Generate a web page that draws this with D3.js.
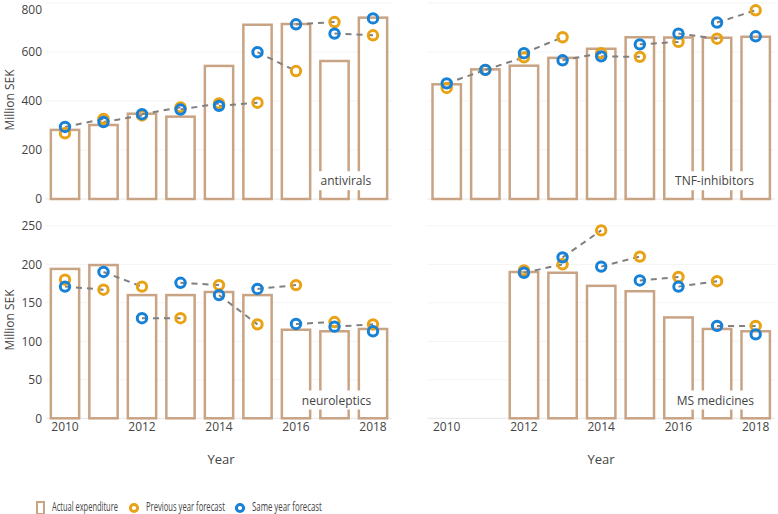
<!DOCTYPE html>
<html>
<head>
<meta charset="utf-8">
<script src="https://cdn.jsdelivr.net/npm/d3@7"></script>
<style>
  body { margin: 0; background: #fff; }
  svg { font-family: "Open Sans", "DejaVu Sans", sans-serif; }
</style>
</head>
<body>
<svg id="chart" width="778" height="514"></svg>
<script>
const years = [2010, 2011, 2012, 2013, 2014, 2015, 2016, 2017, 2018];
const xTickLabels = [2010, 2012, 2014, 2016, 2018];
const panelNames = ["antivirals", "TNF-inhibitors", "neuroleptics", "MS medicines"];
const topTicks = [0, 200, 400, 600, 800];
const bottomTicks = [0, 50, 100, 150, 200, 250];

// antivirals
const antiviralsActual = [282, 302, 348, 336, 543, 711, 714, 563, 740];
const antiviralsPrev   = [268, 327, 341, 374, 390, 393, 522, 722, 668];
const antiviralsSame   = [294, 314, 346, 365, 380, 599, 713, 675, 737];
// TNF-inhibitors
const tnfActual = [468, 529, 544, 576, 613, 660, 659, 658, 662];
const tnfPrev   = [453, 527, 578, 660, 595, 580, 641, 654, 770];
const tnfSame   = [472, 527, 595, 566, 582, 631, 675, 720, 664];
// neuroleptics
const neuroActual = [194, 199, 160, 160, 164, 160, 115, 113, 116];
const neuroPrev   = [180, 167, 171, 130, 173, 122, 173, 125, 122];
const neuroSame   = [171, 190, 130, 176, 160, 168, 122.5, 119, 113];
// MS medicines
const msActual = [null, null, 190, 189, 172, 165, 131, 116, 113];
const msPrev   = [null, null, 192, 200, 244, 210, 183.5, 178, 120];
const msSame   = [null, null, 189, 209, 197, 179, 171, 120, 109];

const legendLabels = ["Actual expenditure", "Previous year forecast", "Same year forecast"];

const COL_BAR = "#c8a384";
const COL_PREV = "#e8a214";
const COL_SAME = "#1681d6";
const COL_TEXT = "#444";

const svg = d3.select("#chart");

const panels = [
  { name: panelNames[0], actual: antiviralsActual, prev: antiviralsPrev, same: antiviralsSame,
    x0: 45.75, x1: 392.25, yTop: 0, yBot: 199, dmax: 812, ticks: topTicks, showX: false, showY: true },
  { name: panelNames[1], actual: tnfActual, prev: tnfPrev, same: tnfSame,
    x0: 427.4, x1: 775, yTop: 0, yBot: 199, dmax: 812, ticks: topTicks, showX: false, showY: false },
  { name: panelNames[2], actual: neuroActual, prev: neuroPrev, same: neuroSame,
    x0: 45.75, x1: 392.25, yTop: 215, yBot: 418.3, dmax: 264, ticks: bottomTicks, showX: true, showY: true },
  { name: panelNames[3], actual: msActual, prev: msPrev, same: msSame,
    x0: 427.4, x1: 775, yTop: 215, yBot: 418.3, dmax: 264, ticks: bottomTicks, showX: true, showY: false }
];

panels.forEach(p => {
  const x = d3.scaleBand().domain(years).range([p.x0, p.x1]).paddingInner(0.2).paddingOuter(0.1);
  const y = d3.scaleLinear().domain([0, p.dmax]).range([p.yBot, p.yTop]);
  const g = svg.append("g");
  const cx = yr => x(yr) + x.bandwidth() / 2;

  // gridlines
  g.selectAll("line.grid").data(p.ticks).join("line")
    .attr("x1", p.x0).attr("x2", p.x1)
    .attr("y1", d => y(d)).attr("y2", d => y(d))
    .attr("stroke", d => d === 0 ? "#e6e6e6" : "#f3f3f3")
    .attr("stroke-width", 1);

  // y axis labels
  if (p.showY) {
    const ya = d3.axisLeft(y).tickValues(p.ticks).tickSize(0).tickPadding(0);
    const ag = g.append("g").attr("transform", `translate(42,0)`).call(ya);
    ag.select(".domain").remove();
    ag.selectAll("text").attr("fill", COL_TEXT).style("font-size", "12px")
      .style("font-family", "'Open Sans', sans-serif")
      .attr("dy", d => (p.yTop === 0 && d === 800) ? "0.85em" : "0.32em");
  }
  // x axis labels
  if (p.showX) {
    const xa = d3.axisBottom(x).tickValues(xTickLabels).tickSize(0).tickPadding(0);
    const ag = g.append("g").attr("transform", `translate(0,${p.yBot + 4})`).call(xa);
    ag.select(".domain").remove();
    ag.selectAll("text").attr("fill", COL_TEXT).style("font-size", "12px")
      .style("font-family", "'Open Sans', sans-serif");
  }

  // bars
  const barData = years.map((yr, i) => ({ yr, v: p.actual[i] })).filter(d => d.v != null);
  g.selectAll("rect.bar").data(barData).join("rect")
    .attr("x", d => x(d.yr) + 1.25)
    .attr("width", x.bandwidth() - 2.5)
    .attr("y", d => y(d.v))
    .attr("height", d => y(0) - y(d.v))
    .attr("fill", "#fff")
    .attr("stroke", COL_BAR)
    .attr("stroke-width", 2.5);

  // panel label with white box
  const lab = g.append("text")
    .attr("x", p.x1 - 21).attr("y", p.yBot - 17)
    .attr("text-anchor", "end").attr("dominant-baseline", "middle")
    .attr("fill", COL_TEXT).style("font-size", "12px")
    .text(p.name);
  const bb = lab.node().getBBox();
  g.insert("rect", () => lab.node())
    .attr("x", bb.x - 3).attr("y", bb.y - 1)
    .attr("width", bb.width + 6).attr("height", bb.height + 2)
    .attr("fill", "#fff");

  // dashed segments: same-year forecast (t) -> previous-year forecast (t+1)
  const segs = [];
  for (let i = 0; i < years.length - 1; i++) {
    if (p.same[i] != null && p.prev[i + 1] != null) {
      segs.push({ x1: cx(years[i]), y1: y(p.same[i]), x2: cx(years[i + 1]), y2: y(p.prev[i + 1]) });
    }
  }
  g.selectAll("line.seg").data(segs).join("line")
    .attr("x1", d => d.x1).attr("y1", d => d.y1)
    .attr("x2", d => d.x2).attr("y2", d => d.y2)
    .attr("stroke", "#808080").attr("stroke-width", 2)
    .attr("stroke-dasharray", "6,5");

  // markers
  const prevPts = years.map((yr, i) => ({ yr, v: p.prev[i] })).filter(d => d.v != null);
  const samePts = years.map((yr, i) => ({ yr, v: p.same[i] })).filter(d => d.v != null);
  g.selectAll("circle.prev").data(prevPts).join("circle")
    .attr("cx", d => cx(d.yr)).attr("cy", d => y(d.v)).attr("r", 4.7)
    .attr("fill", "none").attr("stroke", COL_PREV).attr("stroke-width", 3);
  g.selectAll("circle.same").data(samePts).join("circle")
    .attr("cx", d => cx(d.yr)).attr("cy", d => y(d.v)).attr("r", 4.7)
    .attr("fill", "none").attr("stroke", COL_SAME).attr("stroke-width", 3);
});

// y axis titles
[100, 320].forEach(cy => {
  svg.append("text")
    .attr("transform", `translate(11,${cy}) rotate(-90)`)
    .attr("text-anchor", "middle").attr("dominant-baseline", "middle")
    .attr("fill", COL_TEXT).style("font-size", "12px")
    .text("Million SEK");
});
// x axis titles
[221, 601].forEach(cx => {
  svg.append("text").attr("x", cx).attr("y", 461)
    .attr("text-anchor", "middle").attr("dominant-baseline", "middle")
    .attr("fill", COL_TEXT).style("font-size", "13px").text("Year");
});

// legend
const lg = svg.append("g");
lg.append("rect").attr("x", 37).attr("y", 502).attr("width", 7).attr("height", 12)
  .attr("fill", "#fff").attr("stroke", COL_BAR).attr("stroke-width", 2);
lg.append("circle").attr("cx", 134).attr("cy", 508).attr("r", 3.6)
  .attr("fill", "none").attr("stroke", COL_PREV).attr("stroke-width", 3);
lg.append("circle").attr("cx", 240).attr("cy", 508).attr("r", 3.6)
  .attr("fill", "none").attr("stroke", COL_SAME).attr("stroke-width", 3);
[[52, legendLabels[0], 66], [146, legendLabels[1], 79], [252, legendLabels[2], 70]].forEach(([lx, t, w]) => {
  const tg = lg.append("g");
  const tx = tg.append("text").attr("x", 0).attr("y", 0).attr("dominant-baseline", "middle")
    .attr("fill", COL_TEXT).style("font-size", "12px")
    .text(t);
  const nat = tx.node().getComputedTextLength();
  tg.attr("transform", `translate(${lx},508) scale(${w / nat},1)`);
});
</script>
</body>
</html>
